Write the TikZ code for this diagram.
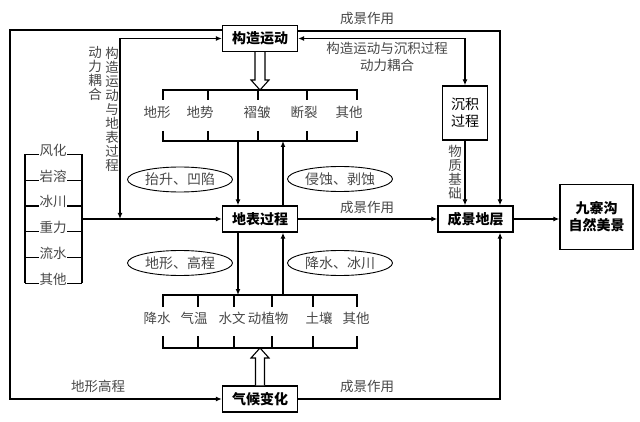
\documentclass[tikz,border=0pt]{standalone}
\usepackage{fontspec}
\setmainfont{Noto Sans CJK SC}
\usetikzlibrary{arrows.meta,shapes.geometric}
\begin{document}
\begin{tikzpicture}[x=1pt,y=-1pt,
  every node/.style={inner sep=0pt},
  lbl/.style={text=black!72, font=\fontsize{13.5}{17}\selectfont},
  vlbl/.style={text=black!72, font=\fontsize{13.5}{14}\selectfont, align=center},
  box/.style={draw, line width=1.3pt, fill=white, font=\bfseries\fontsize{14}{17}\selectfont, minimum width=75pt, minimum height=26pt, align=center},
  oval/.style={draw, ellipse, line width=0.9pt, minimum width=105pt, minimum height=25pt, text=black!72, font=\fontsize{14}{16}\selectfont},
  ln/.style={line width=1.1pt},
  mainln/.style={line width=1.4pt},
  arr/.style={mainln, -{Latex[length=6pt,width=5pt]}},
  arrb/.style={mainln, {Latex[length=6pt,width=5pt]}-{Latex[length=6pt,width=5pt]}},
  hollow/.style={line width=1.1pt, fill=white, line join=miter},
  item/.style={text=black!72, font=\fontsize{13.5}{15}\selectfont, fill=white, inner xsep=0.5pt}
]
\useasboundingbox (0,0) rectangle (640,422);

% main boxes
\node[box] (gz) at (260,38.5) {构造运动};
\node[box] (db) at (260,219) {地表过程};
\node[box] (qh) at (260,399) {气候变化};
\node[box] (cd) at (475.5,219) {成景地层};
\node[draw, line width=1.3pt, minimum width=45pt, minimum height=54pt, align=center, font=\fontsize{14}{17}\selectfont] (cj) at (465,113) {沉积\\过程};
\node[box, minimum width=73pt, minimum height=65pt] (jz) at (596.5,217) {九寨沟\\自然美景};

% ellipses
\node[oval] (e1) at (180,179.5) {抬升、凹陷};
\node[oval] (e2) at (340,179) {侵蚀、剥蚀};
\node[oval] (e3) at (180,263) {地形、高程};
\node[oval] (e4) at (340,263) {降水、冰川};

% top bracket
\draw[ln] (163,100) -- (163,90) -- (357,90) -- (357,100);
\foreach \x in {208,258,307} \draw[ln] (\x,90) -- (\x,100);
\draw[ln] (163,131) -- (163,141) -- (357,141) -- (357,131);
\foreach \x in {208,258,307} \draw[ln] (\x,131) -- (\x,141);
\foreach \x/\t in {157/地形,200/地势,257/褶皱,304/断裂,349/其他}
  \node[lbl] at (\x,112) {\t};
\coordinate (tbt) at (260,90);

% bottom bracket
\draw[ln] (163,307) -- (163,295) -- (357,295) -- (357,307);
\foreach \x in {198,234,272,313} \draw[ln] (\x,295) -- (\x,307);
\draw[ln] (163,336) -- (163,348) -- (357,348) -- (357,336);
\foreach \x in {198,234,272,313} \draw[ln] (\x,336) -- (\x,348);
\foreach \x/\t in {157/降水,194/气温,232/水文,268/动植物,319/土壤,356/其他}
  \node[lbl] at (\x,318) {\t};
\coordinate (bbt) at (260,348);

% left bracket
\draw[ln] (25,154.3) -- (25,283.3);
\draw[ln] (82,154.3) -- (82,283.3);
\foreach \y in {154.3,180.7,206,231.7,257.7,283.3} \draw[ln] (25,\y) -- (82,\y);
\foreach \y/\t in {150.7/风化,176.7/岩溶,201.7/冰川,227.7/重力,253.3/流水,279.3/其他}
  \node[item] at (53,\y) {\t};
\coordinate (lb) at (82,219);
\coordinate (lc) at (120,219);

% arrows between brackets and 地表过程
\coordinate (tbd) at (238,141);
\coordinate (tbu) at (283,141);
\coordinate (bbd) at (238,295);
\coordinate (bbu) at (283,295);
\draw[arr] (tbd) -- (tbd |- db.north);
\draw[arr] (tbu |- db.north) -- (tbu);
\draw[arr] (bbd |- db.south) -- (bbd);
\draw[arr] (bbu) -- (bbu |- db.south);

% left connectors
\draw[arr] (lb) -- (db.west);
\draw[arrb] (lc) |- (gz.west);
\node[vlbl] (v1) at (112,109.5) {构\\造\\运\\动\\与\\地\\表\\过\\程};
\node[vlbl] (v2) at (95,73) {动\\力\\耦\\合};

% outer loops
\coordinate (o1) at (10,30);
\coordinate (o2) at (10,399);
\draw[arr] (gz.west |- o1) -- (o1) -- (o2) -- (qh.west);
\coordinate (r1) at (500,31);
\coordinate (r2) at (500,399);
\draw[arr] (gz.east |- r1) -- (r1) -- (r1 |- cd.north);
\draw[arr] (qh.east) -- (r2) -- (r2 |- cd.south);

% coupling with 沉积过程
\draw[arrb] (gz.east) -| (cj.north);
\draw[arr] (cj.south) -- (cj.south |- cd.north);
\node[vlbl] (v3) at (455,172.5) {物\\质\\基\\础};

% main flow
\draw[arr] (db.east) -- (cd.west);
\draw[arr] (cd.east) -- (jz.west |- cd.east);

% labels
\node[lbl] (l1) at (367,18) {成景作用};
\node[lbl, align=center] (l2) at (387,56.5) {构造运动与沉积过程\\动力耦合};
\node[lbl] (l3) at (367,207) {成景作用};
\node[lbl] (l4) at (367,386) {成景作用};
\node[lbl] (l5) at (98,386) {地形高程};

% hollow arrows
\draw[hollow] ([shift={(-5,0)}]gz.south) -- ([shift={(-5,-10)}]tbt) -- ([shift={(-9,-10)}]tbt)
  -- (tbt) -- ([shift={(9,-10)}]tbt) -- ([shift={(5,-10)}]tbt) -- ([shift={(5,0)}]gz.south);
\draw[hollow] ([shift={(-4.5,0)}]qh.north) -- ([shift={(-4.5,10)}]bbt) -- ([shift={(-9,10)}]bbt)
  -- (bbt) -- ([shift={(9,10)}]bbt) -- ([shift={(4.5,10)}]bbt) -- ([shift={(4.5,0)}]qh.north);
\end{tikzpicture}
\end{document}
